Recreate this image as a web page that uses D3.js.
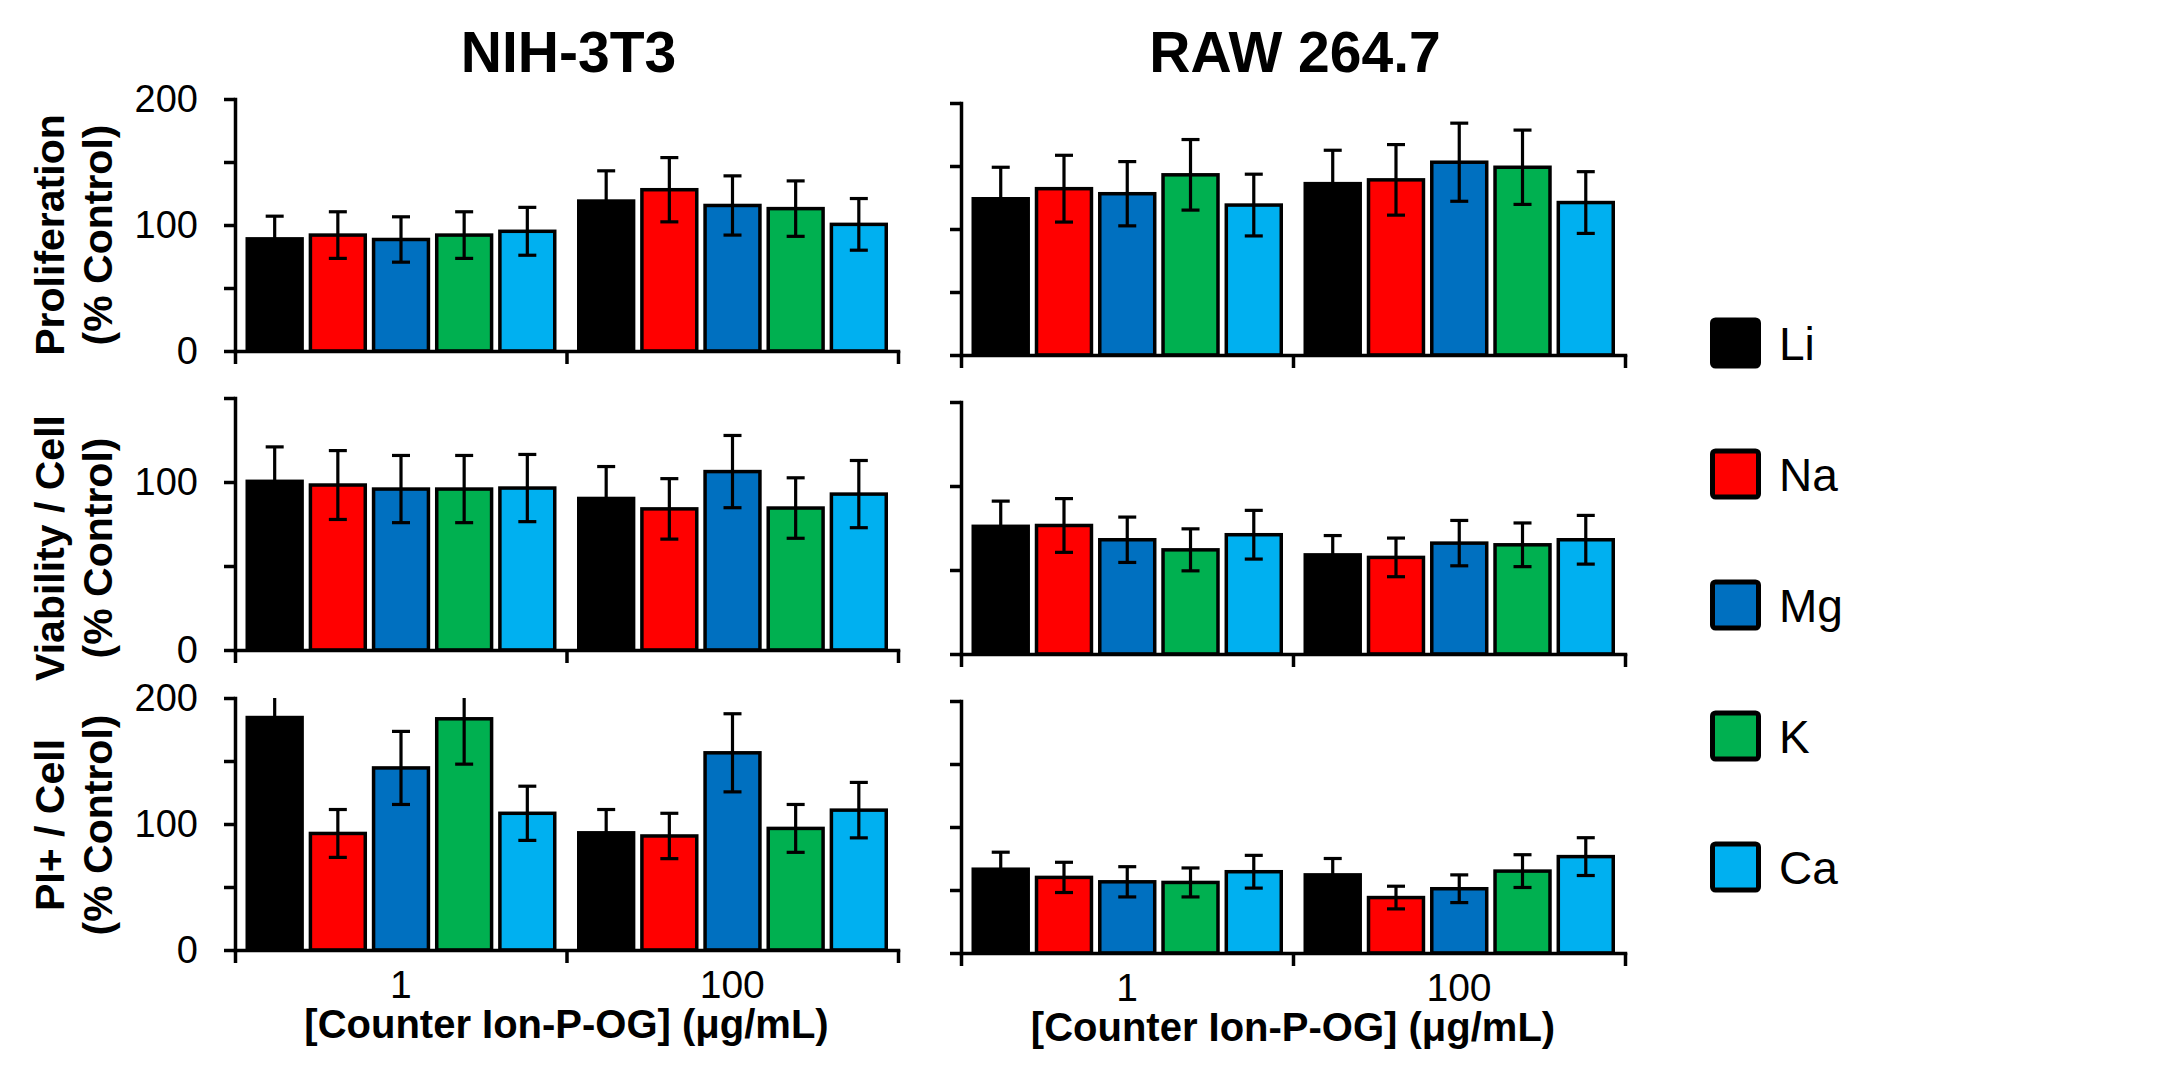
<!DOCTYPE html>
<html>
<head>
<meta charset="utf-8">
<script src="https://cdn.jsdelivr.net/npm/d3@7"></script>
<style>
  body { margin: 0; background: #fff; }
  text { font-family: "Liberation Sans", Arial, sans-serif; fill: #000; }
</style>
</head>
<body>
<div id="chart"></div>
<script>
/* DATA */
const ions = ["Li", "Na", "Mg", "K", "Ca"];
const ionColors = ["#000000", "#FF0000", "#0070C0", "#00B050", "#00B0F0"];
const concs = ["1", "100"];
const cellLines = ["NIH-3T3", "RAW 264.7"];

// values are [conc 1, conc 100] x [Li, Na, Mg, K, Ca]
const nihProlif    = [[89, 92, 88.5, 92, 95], [119, 128, 115.5, 113, 100.5]];
const nihProlifErr = [[18, 18.5, 18, 18.5, 19], [24, 25.5, 23.5, 22, 20.5]];
const rawProlif    = [[124, 132, 128, 143, 119], [136, 139, 153, 149, 121]];
const rawProlifErr = [[25, 26.5, 25.5, 28, 24.5], [26.5, 28, 31, 29.5, 24.5]];

const nihViab    = [[100.4, 98.2, 95.8, 95.8, 96.4], [90.2, 84, 106.2, 84.5, 92.8]];
const nihViabErr = [[20.5, 20.5, 20, 20, 20], [19, 18, 21.5, 18, 20]];
const rawViab    = [[76, 76.5, 68, 62, 71], [59, 57.5, 66, 65, 68]];
const rawViabErr = [[15, 16, 13.5, 12.5, 14.5], [11.5, 11.5, 13.5, 13, 14.5]];

const nihPI    = [[184.5, 92.5, 144.5, 183.5, 108.5], [93, 90.5, 156.5, 96.5, 111]];
const nihPIErr = [[22, 19, 29, 36, 21.5], [18.5, 18, 31, 19, 22]];
const rawPI    = [[66.5, 60, 56.5, 56, 64.5], [62, 44, 51, 65, 76.5]];
const rawPIErr = [[13.5, 12, 12, 11.5, 13], [13, 9, 11, 13, 15]];

const yTitles = [["Proliferation", "(% Control)"], ["Viability / Cell", "(% Control)"], ["PI+ / Cell", "(% Control)"]];
const yMax = [200, 150, 200];
const yTicks = [[0, 50, 100, 150, 200], [0, 50, 100, 150], [0, 50, 100, 150, 200]];
const yTickLabels = [[0, 100, 200], [0, 100], [0, 100, 200]];
const xTitle = "[Counter Ion-P-OG] (\u03bcg/mL)";

/* LAYOUT */
const width = 2175, height = 1080;
const panelH = 252;
const cols = [
  { x0: 235, x1: 898, zeros: [351, 650, 950] },
  { x0: 961, x1: 1625, zeros: [355, 654, 953] }
];
const yTitleCenters = [235, 548, 825];
const panelData = [
  [[nihProlif, nihProlifErr], [nihViab, nihViabErr], [nihPI, nihPIErr]],
  [[rawProlif, rawProlifErr], [rawViab, rawViabErr], [rawPI, rawPIErr]]
];
const barStroke = 3.5, capW = 18;

const svg = d3.select("#chart").append("svg")
  .attr("width", width)
  .attr("height", height);

cols.forEach((col, c) => {
  // column title
  svg.append("text")
    .attr("x", (col.x0 + col.x1) / 2 + 2)
    .attr("y", 72)
    .attr("text-anchor", "middle")
    .attr("font-size", 57)
    .attr("font-weight", "bold")
    .text(cellLines[c]);

  const xg = d3.scaleBand().domain(concs).range([col.x0, col.x1]);
  const xi = d3.scaleBand().domain(ions)
    .range([10.5, xg.bandwidth() - 10])
    .paddingInner(0.076);
  const xb = d3.scaleLinear().domain([0, concs.length]).range([col.x0, col.x1]);

  for (let r = 0; r < 3; r++) {
    const zero = col.zeros[r];
    const y = d3.scaleLinear().domain([0, yMax[r]]).range([zero, zero - panelH]);
    const [vals, errs] = panelData[c][r];
    const rows = concs.flatMap((cn, ci) => ions.map((ion, ii) => ({
      cn, ion, v: vals[ci][ii], e: errs[ci][ii], color: ionColors[ii]
    })));

    const g = svg.append("g");

    // bars
    g.selectAll("rect.bar")
      .data(rows)
      .join("rect")
      .attr("class", "bar")
      .attr("x", d => xg(d.cn) + xi(d.ion) + barStroke / 2)
      .attr("width", xi.bandwidth() - barStroke)
      .attr("y", d => y(d.v))
      .attr("height", d => zero - y(d.v))
      .attr("fill", d => d.color)
      .attr("stroke", "#000")
      .attr("stroke-width", barStroke);

    // error bars (clipped at the axis top, no cap when clipped)
    const eb = g.selectAll("g.err")
      .data(rows)
      .join("g")
      .attr("class", "err")
      .attr("transform", d => `translate(${xg(d.cn) + xi(d.ion) + xi.bandwidth() / 2},0)`)
      .attr("stroke", "#000")
      .attr("stroke-width", 3.2);
    eb.append("line")
      .attr("y1", d => y(d.v - d.e))
      .attr("y2", d => y(Math.min(d.v + d.e, yMax[r])));
    eb.filter(d => d.v + d.e <= yMax[r]).append("line")
      .attr("x1", -capW / 2).attr("x2", capW / 2)
      .attr("y1", d => y(d.v + d.e)).attr("y2", d => y(d.v + d.e));
    eb.append("line")
      .attr("x1", -capW / 2).attr("x2", capW / 2)
      .attr("y1", d => y(d.v - d.e)).attr("y2", d => y(d.v - d.e));

    // y axis
    const yAxis = d3.axisLeft(y)
      .tickValues(yTicks[r])
      .tickSize(11)
      .tickSizeOuter(0)
      .tickPadding(26)
      .tickFormat(d => (c === 0 && yTickLabels[r].includes(d)) ? d : "");
    g.append("g")
      .attr("class", "axis y-axis")
      .attr("transform", `translate(${col.x0},0)`)
      .call(yAxis);

    // x axis (ticks at group boundaries)
    const xAxis = d3.axisBottom(xb)
      .tickValues(d3.range(concs.length + 1))
      .tickSize(13)
      .tickSizeOuter(0)
      .tickFormat("");
    g.append("g")
      .attr("class", "axis x-axis")
      .attr("transform", `translate(0,${zero})`)
      .call(xAxis);

    // category labels + axis title on the bottom row
    if (r === 2) {
      const catAxis = d3.axisBottom(xg).tickSize(0).tickPadding(20);
      g.append("g")
        .attr("class", "axis cat-axis")
        .attr("transform", `translate(0,${zero})`)
        .call(catAxis)
        .call(s => s.select(".domain").remove())
        .selectAll("text")
        .attr("font-size", 39);

      g.append("text")
        .attr("x", (col.x0 + col.x1) / 2)
        .attr("y", zero + 88)
        .attr("text-anchor", "middle")
        .attr("font-size", 40)
        .attr("font-weight", "bold")
        .text(xTitle);
    }

    // y titles on the left column
    if (c === 0) {
      yTitles[r].forEach((line, li) => {
        svg.append("text")
          .attr("transform", `translate(${li === 0 ? 64 : 112},${yTitleCenters[r]}) rotate(-90)`)
          .attr("text-anchor", "middle")
          .attr("font-size", 41)
          .attr("font-weight", "bold")
          .text(line);
      });
    }
  }
});

// axis styling
svg.selectAll(".axis path.domain")
  .attr("stroke", "#000")
  .attr("stroke-width", 3.5)
  .attr("stroke-linecap", "square");
svg.selectAll(".axis .tick line")
  .attr("stroke", "#000")
  .attr("stroke-width", 3.5);
svg.selectAll(".y-axis text")
  .attr("font-size", 38)
  .attr("font-family", "'Liberation Sans', Arial, sans-serif")
  .attr("fill", "#000");
svg.selectAll(".cat-axis text")
  .attr("font-family", "'Liberation Sans', Arial, sans-serif")
  .attr("fill", "#000");

// legend
const legend = svg.append("g")
  .selectAll("g")
  .data(ions)
  .join("g")
  .attr("transform", (d, i) => `translate(1712.5,${343 + i * 131})`);
legend.append("rect")
  .attr("x", 0).attr("y", -23)
  .attr("width", 46).attr("height", 46)
  .attr("rx", 3)
  .attr("fill", (d, i) => ionColors[i])
  .attr("stroke", "#000")
  .attr("stroke-width", 5);
legend.append("text")
  .attr("x", 66.5)
  .attr("y", 17)
  .attr("font-size", 46)
  .text(d => d);
</script>
</body>
</html>
